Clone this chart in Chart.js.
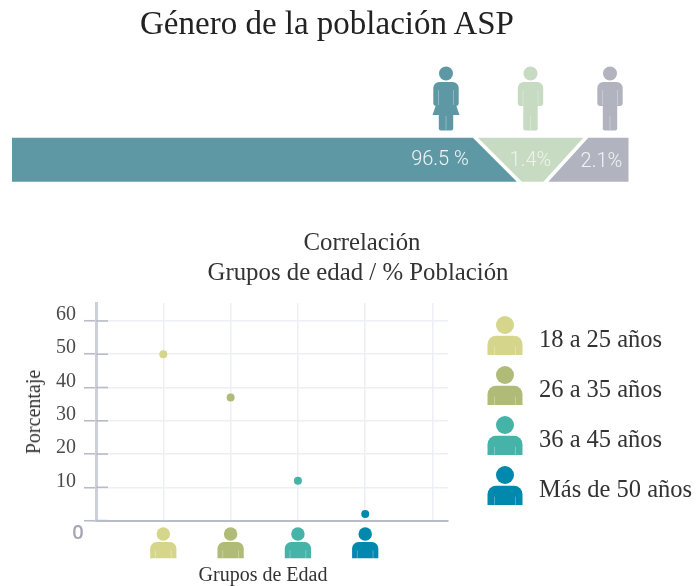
<!DOCTYPE html>
<html lang="es"><head><meta charset="utf-8">
<script src="https://cdn.jsdelivr.net/npm/chart.js@4"></script>
<style>
html,body{margin:0;padding:0;background:#fff}
#stage{position:relative;width:697px;height:586px;overflow:hidden;font-family:"Liberation Serif",serif;color:#333}
canvas{position:absolute;left:0}
.t{position:absolute;white-space:nowrap;transform:translate(-50%,-50%);line-height:1}
.l{position:absolute;white-space:nowrap;transform:translateY(-50%);line-height:1;font-size:24.5px;left:539px}
</style></head><body>
<div id="stage">
<canvas id="top" width="697" height="200" style="top:0"></canvas>
<canvas id="bottom" width="697" height="386" style="top:200px"></canvas>
<div class="t" style="left:327px;top:23px;font-size:33px;color:#222">Género de la población ASP</div>
<div class="t" style="left:362px;top:242px;font-size:24.8px">Correlación</div>
<div class="t" style="left:358px;top:272px;font-size:24.8px">Grupos de edad / % Población</div>
<div class="t" style="left:33px;top:412px;font-size:20px;transform:translate(-50%,-50%) rotate(-90deg)">Porcentaje</div>
<div class="t" style="left:263px;top:574px;font-size:20px">Grupos de Edad</div>
<div id="legend"></div>
</div>
<script>
// ---- Data ----
const genderLabels = ['Mujeres', 'Otro', 'Hombres'];
const genderValues = [96.5, 1.4, 2.1];
const genderTexts = ['96.5 %', '1.4%', '2.1%'];
const ageGroups = ['18 a 25 años', '26 a 35 años', '36 a 45 años', 'Más de 50 años'];
const agePositions = [1, 2, 3, 4];
const ageValues = [50, 37, 12, 2];

// ---- Styles ----
const genderColors = ['#5f98a5', '#c6dbc2', '#b1b4bf'];
const ageColors = ['#d5d68c', '#b1bb78', '#45b3a8', '#0088ad'];
const AXIS = '#b9bcc8', GRID = '#eeeff4';

// The band of the source is a pictogram, not proportional: piecewise value scale.
const bandKnots = [[0, 0], [96.5, 0.7873], [97.9, 0.8983], [100, 1]];
class BandScale extends Chart.LinearScale {
  getPixelForValue(v) {
    for (let i = 1; i < bandKnots.length; i++) {
      const [a, fa] = bandKnots[i - 1], [b, fb] = bandKnots[i];
      if (v <= b + 1e-9) return this.left + this.width * (fa + (fb - fa) * (v - a) / (b - a));
    }
    return this.right;
  }
}
BandScale.id = 'band';
BandScale.defaults = Chart.LinearScale.defaults;
Chart.register(BandScale);

// ---- Icons ----
function rr(c, x, y, w, h, r) { c.beginPath(); c.roundRect(x, y, w, h, r); c.fill(); }
function bust(c, cx, headY, s, color) {      // s=1 : legend size
  c.fillStyle = color;
  c.beginPath(); c.arc(cx, headY, 9 * s, 0, 7); c.fill();
  const top = headY + 10.7 * s;
  c.beginPath(); c.roundRect(cx - 17.5 * s, top, 35 * s, 21.6 * s, [8.5 * s, 8.5 * s, 0, 0]); c.fill();
  c.strokeStyle = 'rgba(255,255,255,.3)'; c.lineWidth = 1;
  [-10.5, 10.5].forEach(d => { c.beginPath(); c.moveTo(cx + d * s, top + 11 * s); c.lineTo(cx + d * s, top + 21.6 * s); c.stroke(); });
}
function person(c, cx, color, woman) {
  c.fillStyle = color;
  c.beginPath(); c.arc(cx, 73.5, 7, 0, 7); c.fill();
  rr(c, cx - 12.7, 82, 25.4, 24, [6, 6, 3, 3]);
  rr(c, cx - 7.2, 95, 14.4, 35.5, [0, 0, 2, 2]);
  if (woman) {
    c.beginPath(); c.moveTo(cx - 9, 102); c.lineTo(cx + 9, 102); c.lineTo(cx + 13.5, 115); c.lineTo(cx - 13.5, 115); c.closePath(); c.fill();
  }
  c.strokeStyle = 'rgba(255,255,255,.3)'; c.lineWidth = 1;
  [-7.5, 7.5].forEach(d => { c.beginPath(); c.moveTo(cx + d, 90); c.lineTo(cx + d, 105); c.stroke(); });
  c.beginPath(); c.moveTo(cx, 116); c.lineTo(cx, 130); c.stroke();
}

// ---- Top chart ----
const slant = 22, gap = 2.5;
const bandPlugin = {
  id: 'bandShapes',
  beforeDatasetDraw(chart, args) {
    const el = chart.getDatasetMeta(args.index).data[0], c = chart.ctx;
    const i = args.index, t = el.y - el.height / 2, b = el.y + el.height / 2;
    const l = el.base, r = el.x;
    const L = i === 0 ? 0 : gap, R = i === 2 ? 0 : gap;
    c.save(); c.fillStyle = genderColors[i];
    c.beginPath();
    if (i === 0) { c.moveTo(l, t); c.lineTo(r - slant - R, t); c.lineTo(r + slant - R, b); c.lineTo(l, b); }
    if (i === 1) { c.moveTo(l - slant + L, t); c.lineTo(r + slant - 2 - R, t); c.lineTo(r - slant + 2 - R, b); c.lineTo(l + slant + L, b); }
    if (i === 2) { c.moveTo(l + slant - 2 + L, t); c.lineTo(r, t); c.lineTo(r, b); c.lineTo(l - slant + 2 + L, b); }
    c.closePath(); c.fill(); c.restore();
    return false;
  },
  afterDraw(chart) {
    const c = chart.ctx;
    c.save();
    c.font = '300 20px Roboto'; c.textAlign = 'center'; c.textBaseline = 'middle';
    c.fillStyle = '#f2f6f6'; c.fillText(genderTexts[0], 440, 160);
    c.fillStyle = '#eef4ec'; c.fillText(genderTexts[1], 530.5, 161);
    c.fillStyle = '#f3f3f5'; c.fillText(genderTexts[2], 601.5, 162);
    person(c, 446, genderColors[0], true);
    person(c, 530.5, genderColors[1], false);
    person(c, 610, genderColors[2], false);
    c.restore();
  }
};
new Chart(document.getElementById('top'), {
  type: 'bar',
  data: {
    labels: ['Género'],
    datasets: genderValues.map((v, i) => ({
      label: genderLabels[i], data: [v], backgroundColor: genderColors[i],
      barPercentage: 1, categoryPercentage: 1, borderWidth: 0
    }))
  },
  options: {
    indexAxis: 'y', responsive: false, animation: false,
    layout: { padding: { left: 12, right: 68.5, top: 137.7, bottom: 18.3 } },
    plugins: { legend: { display: false }, tooltip: { enabled: false } },
    scales: {
      x: { type: 'band', stacked: true, min: 0, max: 100, display: false },
      y: { stacked: true, display: false }
    }
  },
  plugins: [bandPlugin]
});

// ---- Bottom chart ----
const axisExtras = {
  id: 'axisExtras',
  afterDraw(chart) {
    const c = chart.ctx, y = chart.scales.y, x = chart.scales.x;
    c.save();
    c.strokeStyle = AXIS; c.lineWidth = 1.6;
    y.ticks.forEach(t => {
      const p = y.getPixelForValue(t.value);
      c.beginPath(); c.moveTo(x.left, p); c.lineTo(x.left + 12, p); c.stroke();
    });
    c.font = '600 20px "Open Sans"'; c.fillStyle = '#a3a7b5'; c.textAlign = 'center'; c.textBaseline = 'middle';
    c.fillText('0', 78, y.getPixelForValue(0) + 12.5);
    agePositions.forEach((v, i) => bust(c, x.getPixelForValue(v), 334, 0.75, ageColors[i]));
    c.restore();
  }
};
new Chart(document.getElementById('bottom'), {
  type: 'scatter',
  data: { datasets: [{
    label: 'Porcentaje',
    data: agePositions.map((x, i) => ({ x, y: ageValues[i] })),
    pointRadius: 4, pointBorderWidth: 0, pointBackgroundColor: ageColors
  }] },
  options: {
    responsive: false, animation: false,
    layout: { padding: { left: 0, right: 249, top: 103, bottom: 0 } },
    plugins: { legend: { display: false }, tooltip: { enabled: false } },
    scales: {
      x: {
        type: 'linear', min: 0, max: 5.23,
        afterFit(s) { s.height = 65.4; },
        ticks: { stepSize: 1, includeBounds: false, display: false },
        grid: { color: GRID, lineWidth: 1.5, drawTicks: false },
        border: { color: AXIS, width: 2 }
      },
      y: {
        min: 0, max: 65.4,
        afterFit(s) { s.width = 96; },
        ticks: {
          stepSize: 10, includeBounds: false, autoSkip: false, padding: 8,
          color: '#4a4a4a',
          font: { family: '"Liberation Serif"', size: 20, lineHeight: '12px' },
          callback: v => v === 0 ? '' : [String(v), '']
        },
        grid: {
          color: GRID, lineWidth: 1.5, tickColor: AXIS, tickWidth: 1.6, tickLength: 12
        },
        border: { color: '#cdd0d9', width: 3 }
      }
    }
  },
  plugins: [axisExtras]
});

// ---- Legend ----
const legend = document.getElementById('legend');
ageGroups.forEach((name, i) => {
  const headY = 325 + i * 50, cv = document.createElement('canvas');
  cv.width = 40; cv.height = 40; cv.style.left = '485px'; cv.style.top = (headY - 10) + 'px';
  legend.appendChild(cv);
  bust(cv.getContext('2d'), 20, 10, 1, ageColors[i]);
  const d = document.createElement('div');
  d.className = 'l'; d.textContent = name; d.style.top = (339 + i * 50) + 'px';
  legend.appendChild(d);
});
</script>
</body></html>
